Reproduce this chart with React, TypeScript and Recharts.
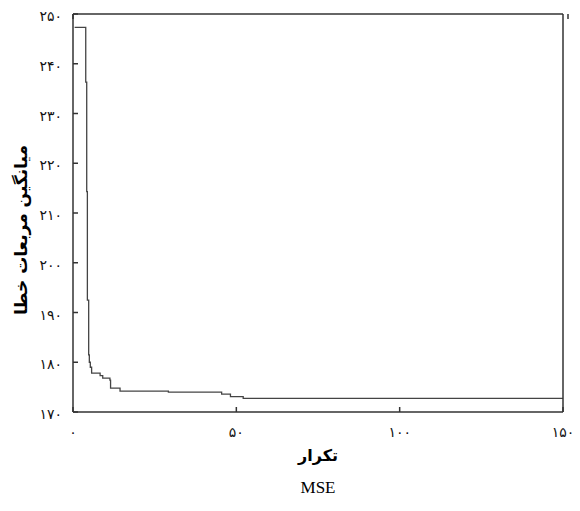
import { Line, LineChart, XAxis, YAxis } from "recharts";

// iteration number (x) and mean squared error (y)
const iterations = [0.5, 3.9, 4.2, 4.4, 4.8, 5.0, 5.3, 5.7, 8.3, 9.1, 11.3, 11.5, 14.4, 29.2, 45.5, 48.2, 52.1, 150];
const mseValues = [247.3, 236.3, 214.3, 192.5, 181.5, 180.0, 179.0, 177.8, 177.3, 176.8, 176.4, 174.8, 174.2, 174.0, 173.6, 173.1, 172.75, 172.75];

const xTicks = [0, 50, 100, 150];
const yTicks = [170, 180, 190, 200, 210, 220, 230, 240, 250];

const yAxisTitle = "میانگین مربعات خطا";
const xAxisTitle = "تکرار";
const caption = "MSE";

const data = iterations.map((it, i) => ({ it, mse: mseValues[i] }));

// western digits -> persian digits for the tick labels
const toPersian = (n: number) => String(n).replace(/\d/g, (d) => "۰۱۲۳۴۵۶۷۸۹"[Number(d)]);

const tickFont = { fontFamily: "DejaVu Sans", fontSize: 14, fill: "#111" };
const frame = "#333";

const LeftTick = ({ x, y, payload }: any) => (
  <g>
    <line x1={x} x2={x + 5} y1={y} y2={y} stroke={frame} strokeWidth={1.5} />
    <text x={x - 11} y={y + 2} textAnchor="end" dominantBaseline="central" {...tickFont}>
      {toPersian(payload.value)}
    </text>
  </g>
);

const BottomTick = ({ x, y, payload }: any) => (
  <g>
    <line x1={x} x2={x} y1={y} y2={y - 5} stroke={frame} strokeWidth={1.5} />
    <text x={x} y={y + 20} textAnchor="middle" dominantBaseline="central" {...tickFont}>
      {toPersian(payload.value)}
    </text>
  </g>
);

const TopTick = ({ x, y }: any) => <line x1={x} x2={x} y1={y} y2={y + 5} stroke={frame} strokeWidth={1.5} />;

const RightTick = ({ x, y }: any) => <line x1={x} x2={x - 5} y1={y} y2={y} stroke={frame} strokeWidth={1.5} />;

export default function App() {
  return (
    <div style={{ position: "absolute", left: 0, top: 0, width: 580, height: 511, background: "#fff" }}>
      <LineChart width={580} height={511} data={data} margin={{ top: 13, right: 16, bottom: 98, left: 72 }}>
        <XAxis
          dataKey="it"
          type="number"
          domain={[0, 150]}
          ticks={xTicks}
          height={1}
          tickSize={0}
          tickMargin={0}
          tick={<BottomTick />}
          axisLine={{ stroke: frame, strokeWidth: 1.5 }}
          allowDataOverflow
        />
        <XAxis
          xAxisId="top"
          orientation="top"
          type="number"
          domain={[0, 150]}
          ticks={xTicks}
          height={1}
          tickSize={0}
          tickMargin={0}
          tick={<TopTick />}
          axisLine={{ stroke: frame, strokeWidth: 1.5 }}
        />
        <YAxis
          type="number"
          domain={[170, 250]}
          ticks={yTicks}
          width={1}
          tickSize={0}
          tickMargin={0}
          tick={<LeftTick />}
          axisLine={{ stroke: frame, strokeWidth: 1.5 }}
          allowDataOverflow
        />
        <YAxis
          yAxisId="right"
          orientation="right"
          type="number"
          domain={[170, 250]}
          ticks={yTicks}
          width={1}
          tickSize={0}
          tickMargin={0}
          tick={<RightTick />}
          axisLine={{ stroke: frame, strokeWidth: 1.5 }}
        />
        <Line
          type="stepAfter"
          dataKey="mse"
          stroke="#444"
          strokeWidth={1.3}
          dot={false}
          isAnimationActive={false}
        />
      </LineChart>
      <div
        style={{
          position: "absolute",
          left: 21,
          top: 230,
          transform: "translate(-50%, -50%) rotate(-90deg)",
          whiteSpace: "nowrap",
          fontFamily: "DejaVu Sans",
          fontWeight: "bold",
          fontSize: 17,
          direction: "rtl",
        }}
      >
        {yAxisTitle}
      </div>
      <div
        style={{
          position: "absolute",
          left: 318,
          top: 455,
          transform: "translate(-50%, -50%)",
          fontFamily: "DejaVu Sans",
          fontWeight: "bold",
          fontSize: 16,
          direction: "rtl",
        }}
      >
        {xAxisTitle}
      </div>
      <div
        style={{
          position: "absolute",
          left: 318,
          top: 488,
          transform: "translate(-50%, -50%)",
          fontFamily: "Liberation Serif",
          fontSize: 17,
        }}
      >
        {caption}
      </div>
    </div>
  );
}
